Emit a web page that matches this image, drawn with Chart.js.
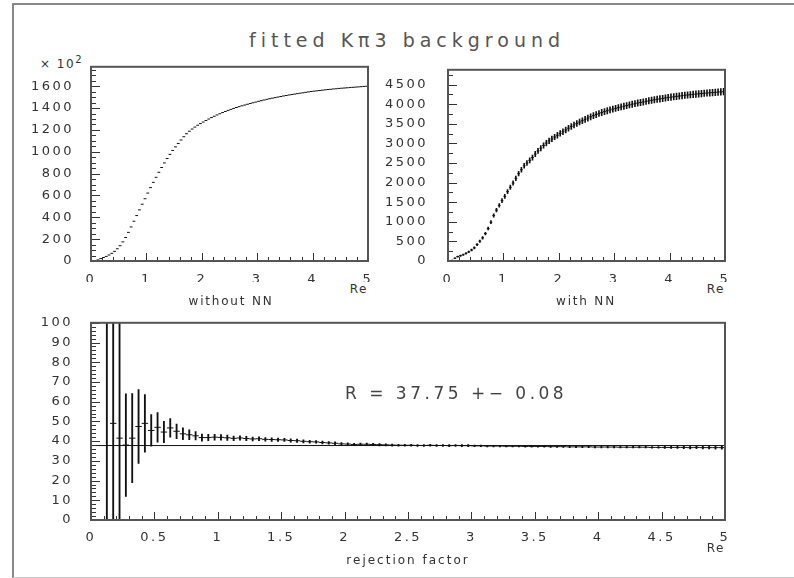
<!DOCTYPE html>
<html>
<head>
<meta charset="utf-8">
<script src="https://cdn.jsdelivr.net/npm/chart.js@4.4.1/dist/chart.umd.min.js"></script>
<style>
  body { margin: 0; width: 794px; height: 578px; background: #fff; position: relative; overflow: hidden;
         font-family: "DejaVu Sans", sans-serif; color: #333; }
  .frame { position: absolute; left: 12px; top: 3px; width: 800px; height: 572px;
           border: 2px solid #888; border-bottom: 1px solid #ccc; }
  canvas { position: absolute; }
  .lbl { position: absolute; white-space: nowrap; line-height: 1; }
</style>
</head>
<body>
<div class="frame"></div>

<div class="lbl" style="left:407px;top:40px;transform:translate(-50%,-50%);font-size:19px;letter-spacing:5px;color:#555">fitted K&pi;3 background</div>
<div class="lbl" style="left:40px;top:62px;transform:translate(0,-50%);font-size:12px;letter-spacing:1.5px">&times; 10<sup style="font-size:10px">2</sup></div>

<canvas id="woNN" style="left:0;top:50px" width="385" height="232"></canvas>
<canvas id="wNN" style="left:385px;top:50px" width="409" height="232"></canvas>
<canvas id="ratio" style="left:0;top:305px" width="794" height="245"></canvas>

<div class="lbl" style="left:368px;top:289px;transform:translate(-100%,-50%);font-size:12px;letter-spacing:1.5px">Re</div>
<div class="lbl" style="left:231px;top:301px;transform:translate(-50%,-50%);font-size:12px;letter-spacing:1.8px">without NN</div>
<div class="lbl" style="left:725px;top:289px;transform:translate(-100%,-50%);font-size:12px;letter-spacing:1.5px">Re</div>
<div class="lbl" style="left:586px;top:301px;transform:translate(-50%,-50%);font-size:12px;letter-spacing:1.8px">with NN</div>
<div class="lbl" style="left:345px;top:393px;transform:translate(0,-50%);font-size:17px;letter-spacing:3.5px;color:#444">R = 37.75 +&minus; 0.08</div>
<div class="lbl" style="left:725px;top:548px;transform:translate(-100%,-50%);font-size:12px;letter-spacing:1.5px">Re</div>
<div class="lbl" style="left:408px;top:560px;transform:translate(-50%,-50%);font-size:12px;letter-spacing:2px">rejection factor</div>

<script>
// bin centres (Re), 100 bins of 0.05
const binCenters = [
  0.025, 0.075, 0.125, 0.175, 0.225, 0.275, 0.325, 0.375, 0.425, 0.475,
  0.525, 0.575, 0.625, 0.675, 0.725, 0.775, 0.825, 0.875, 0.925, 0.975,
  1.025, 1.075, 1.125, 1.175, 1.225, 1.275, 1.325, 1.375, 1.425, 1.475,
  1.525, 1.575, 1.625, 1.675, 1.725, 1.775, 1.825, 1.875, 1.925, 1.975,
  2.025, 2.075, 2.125, 2.175, 2.225, 2.275, 2.325, 2.375, 2.425, 2.475,
  2.525, 2.575, 2.625, 2.675, 2.725, 2.775, 2.825, 2.875, 2.925, 2.975,
  3.025, 3.075, 3.125, 3.175, 3.225, 3.275, 3.325, 3.375, 3.425, 3.475,
  3.525, 3.575, 3.625, 3.675, 3.725, 3.775, 3.825, 3.875, 3.925, 3.975,
  4.025, 4.075, 4.125, 4.175, 4.225, 4.275, 4.325, 4.375, 4.425, 4.475,
  4.525, 4.575, 4.625, 4.675, 4.725, 4.775, 4.825, 4.875, 4.925, 4.975
]

// tick labels
const reTicksTop = [0, 1, 2, 3, 4, 5]
const reTicksBottom = [0, 0.5, 1, 1.5, 2, 2.5, 3, 3.5, 4, 4.5, 5]
const withoutNNTicks = [0, 200, 400, 600, 800, 1000, 1200, 1400, 1600]
const withNNTicks = [0, 500, 1000, 1500, 2000, 2500, 3000, 3500, 4000, 4500]
const rejectionTicks = [0, 10, 20, 30, 40, 50, 60, 70, 80, 90, 100]

// background without NN (x 10^2)
const withoutNN = [
  0, 3, 10, 22, 32, 42, 55, 70, 88, 112,
  140, 175, 215, 262, 312, 364, 416, 468, 520, 570,
  622, 672, 720, 766, 812, 856, 898, 938, 976, 1012,
  1045, 1076, 1108, 1138, 1165, 1188, 1208, 1226, 1243, 1258,
  1272, 1286, 1300, 1313, 1325, 1337, 1348, 1359, 1369, 1379,
  1388, 1397, 1405, 1413, 1421, 1428, 1435, 1442, 1449, 1455,
  1462, 1468, 1474, 1480, 1486, 1491, 1496, 1501, 1506, 1511,
  1515, 1520, 1524, 1528, 1532, 1536, 1540, 1544, 1548, 1552,
  1555, 1558, 1561, 1564, 1567, 1570, 1572, 1575, 1577, 1580,
  1582, 1584, 1586, 1588, 1590, 1592, 1594, 1596, 1598, 1600
]

// background with NN
const withNN = [
  0, 15, 70, 112, 135, 160, 195, 232, 280, 335,
  420, 505, 590, 700, 830, 990, 1160, 1300, 1420, 1540,
  1650, 1770, 1880, 1990, 2110, 2230, 2330, 2430, 2500, 2570,
  2640, 2730, 2810, 2880, 2950, 3010, 3065, 3115, 3165, 3210,
  3255, 3300, 3345, 3390, 3432, 3472, 3510, 3546, 3580, 3615,
  3648, 3680, 3710, 3738, 3765, 3790, 3813, 3835, 3856, 3876,
  3895, 3914, 3932, 3950, 3967, 3984, 4000, 4016, 4031, 4046,
  4060, 4074, 4088, 4101, 4114, 4126, 4138, 4150, 4161, 4172,
  4182, 4192, 4202, 4211, 4220, 4229, 4237, 4245, 4253, 4260,
  4267, 4274, 4281, 4287, 4293, 4299, 4305, 4311, 4316, 4321
]
const withNNErr = [
  0, 6, 12, 15, 16, 17, 19, 20, 22, 24,
  27, 29, 32, 34, 37, 40, 43, 46, 48, 50,
  52, 54, 55, 57, 58, 60, 61, 62, 63, 64,
  65, 66, 67, 68, 69, 70, 70, 71, 71, 72,
  72, 73, 73, 74, 74, 75, 75, 75, 76, 76,
  76, 77, 77, 77, 77, 78, 78, 78, 78, 78,
  79, 79, 79, 79, 79, 80, 80, 80, 80, 80,
  80, 80, 81, 81, 81, 81, 81, 81, 81, 82,
  82, 82, 82, 82, 82, 82, 82, 82, 82, 83,
  83, 83, 83, 83, 83, 83, 83, 83, 83, 83
]

// rejection factor, null = empty bin
const rejection = [
  null, null, 130, 49, 41.5, 38, 41.5, 47.4, 49, 45.4,
  47, 44.6, 46.7, 45, 43.7, 43.2, 42.7, 41.8, 41.8, 42.0,
  41.9, 41.7, 41.4, 41.6, 41.3, 41.1, 41.2, 40.9, 40.8, 40.7,
  40.6, 40.3, 40.2, 39.9, 39.7, 39.6, 39.3, 39.1, 38.9, 38.6,
  38.5, 38.3, 38.4, 38.4, 38.3, 38.2, 38.1, 38.0, 37.9, 37.9,
  37.9, 37.8, 37.8, 37.9, 37.8, 37.8, 37.7, 37.8, 37.7, 37.7,
  37.6, 37.6, 37.5, 37.5, 37.5, 37.4, 37.4, 37.4, 37.3, 37.3,
  37.3, 37.3, 37.2, 37.2, 37.2, 37.1, 37.1, 37.1, 37.1, 37.0,
  37.0, 37.0, 37.0, 36.9, 36.9, 36.9, 36.9, 36.9, 36.8, 36.8,
  36.8, 36.8, 36.8, 36.8, 36.7, 36.8, 36.7, 36.7, 36.7, 36.7
]
const rejectionErr = [
  null, null, 180, 150, 150, 26, 22.6, 18.7, 14.6, 8,
  7.5, 5.4, 4.7, 3.7, 3.0, 2.5, 2.1, 1.8, 1.6, 1.5,
  1.4, 1.3, 1.2, 1.1, 1.1, 1.0, 1.0, 0.9, 0.9, 0.9,
  0.8, 0.8, 0.8, 0.8, 0.7, 0.7, 0.7, 0.7, 0.7, 0.6,
  0.6, 0.6, 0.6, 0.6, 0.6, 0.6, 0.5, 0.5, 0.5, 0.5,
  0.5, 0.5, 0.5, 0.5, 0.5, 0.5, 0.5, 0.5, 0.5, 0.5,
  0.4, 0.4, 0.4, 0.4, 0.4, 0.4, 0.4, 0.4, 0.4, 0.4,
  0.4, 0.4, 0.4, 0.4, 0.4, 0.4, 0.4, 0.4, 0.4, 0.4,
  0.4, 0.4, 0.4, 0.4, 0.4, 0.4, 0.4, 0.4, 0.4, 0.4,
  0.5, 0.5, 0.5, 0.6, 0.6, 0.6, 0.7, 0.7, 0.8, 0.8
]
const fitR = 37.75

// paw style: closed frame, ticks pointing in, minor ticks
const rootAxes = {
    id: 'rootAxes',
    beforeDraw(chart) {
        chart.ctx.letterSpacing = '2.5px'
    },
    afterDraw(chart, args, opts) {
        const ctx = chart.ctx
        const a = chart.chartArea
        const x = chart.scales.x, y = chart.scales.y
        ctx.save()
        ctx.strokeStyle = '#333'
        ctx.lineWidth = 1
        ctx.beginPath()
        var n = Math.round((x.max - x.min) / opts.xMinor)
        for (var i = 0; i <= n; i ++) {
            var v = x.min + i * opts.xMinor
            var major = Math.abs(v / opts.xMajor - Math.round(v / opts.xMajor)) < 1e-6
            var px = Math.round(x.getPixelForValue(v)) + 0.5
            ctx.moveTo(px, a.bottom)
            ctx.lineTo(px, a.bottom - (major ? 8 : 4))
        }
        n = Math.floor((y.max - y.min) / opts.yMinor + 1e-6)
        for (var i = 0; i <= n; i ++) {
            var v = y.min + i * opts.yMinor
            var major = Math.abs(v / opts.yMajor - Math.round(v / opts.yMajor)) < 1e-6
            var py = Math.round(y.getPixelForValue(v)) + 0.5
            ctx.moveTo(a.left, py)
            ctx.lineTo(a.left + (major ? 9 : 5), py)
        }
        ctx.stroke()
        ctx.strokeStyle = '#555'
        ctx.lineWidth = 2
        ctx.strokeRect(a.left, a.top, a.right - a.left, a.bottom - a.top)
        ctx.restore()
    }
}
Chart.register(rootAxes)

function panelOptions(p) {
    const tickFont = { family: 'DejaVu Sans', size: 13 }
    return {
        responsive: false,
        animation: false,
        layout: { padding: { left: 0, top: p.padTop, right: p.padRight, bottom: 0 } },
        plugins: {
            legend: { display: false },
            tooltip: { enabled: false },
            rootAxes: p.ticks
        },
        scales: {
            x: {
                type: 'linear', min: 0, max: 5, offset: false,
                grid: { display: false }, border: { display: false },
                ticks: { autoSkip: false, maxRotation: 0,
                         padding: p.xPad, color: '#333', font: tickFont, callback: v => String(v) },
                afterBuildTicks: s => { s.ticks = p.xTicks.map(v => ({ value: v })) },
                afterFit: s => { s.height = p.xHeight }
            },
            y: {
                type: 'linear', min: 0, max: p.yMax,
                grid: { display: false }, border: { display: false },
                ticks: { autoSkip: false,
                         padding: p.yPad, color: '#333', font: tickFont, callback: v => String(v) },
                afterBuildTicks: s => { s.ticks = p.yTicks.map(v => ({ value: v })) },
                afterFit: s => { s.width = p.yWidth }
            }
        }
    }
}

function binMarks(values, radius) {
    var pts = []
    for (var i = 0; i < binCenters.length; i ++) {
        if (values[i] != null) pts.push({ x: binCenters[i], y: values[i] })
    }
    return {
        type: 'scatter', data: pts, showLine: false,
        pointStyle: 'line', pointRadius: radius, pointHoverRadius: radius,
        borderColor: '#111', pointBorderColor: '#111', pointBorderWidth: 1
    }
}

function errorBars(values, errs, width) {
    var bars = []
    for (var i = 0; i < binCenters.length; i ++) {
        if (values[i] != null) bars.push({ x: binCenters[i], y: [values[i] - errs[i], values[i] + errs[i]] })
    }
    return { type: 'bar', data: bars, backgroundColor: '#111', borderWidth: 0, barThickness: width }
}

new Chart(document.getElementById('woNN'), {
    type: 'scatter',
    data: { datasets: [binMarks(withoutNN, 1.4)] },
    options: panelOptions({
        padTop: 11, padRight: 17, yWidth: 91, xHeight: 21, xPad: 3, yPad: 9,
        xTicks: reTicksTop, yTicks: withoutNNTicks, yMax: 1778,
        ticks: { xMajor: 1, xMinor: 0.2, yMajor: 200, yMinor: 50 }
    })
})

new Chart(document.getElementById('wNN'), {
    type: 'scatter',
    data: { datasets: [binMarks(withNN, 1.4), errorBars(withNN, withNNErr, 1)] },
    options: panelOptions({
        padTop: 11, padRight: 69, yWidth: 63, xHeight: 21, xPad: 3, yPad: 12,
        xTicks: reTicksTop, yTicks: withNNTicks, yMax: 4880,
        ticks: { xMajor: 1, xMinor: 0.2, yMajor: 500, yMinor: 250 }
    })
})

new Chart(document.getElementById('ratio'), {
    type: 'scatter',
    data: {
        datasets: [
            binMarks(rejection, 3.2),
            errorBars(rejection, rejectionErr, 1.2),
            { type: 'line', data: [{ x: 0, y: fitR }, { x: 5, y: fitR }],
              borderColor: '#111', borderWidth: 1, pointRadius: 0 }
        ]
    },
    options: panelOptions({
        padTop: 14, padRight: 69, yWidth: 91, xHeight: 30, xPad: 2, yPad: 10,
        xTicks: reTicksBottom, yTicks: rejectionTicks, yMax: 100,
        ticks: { xMajor: 0.5, xMinor: 0.1, yMajor: 10, yMinor: 2 }
    })
})
</script>
</body>
</html>
